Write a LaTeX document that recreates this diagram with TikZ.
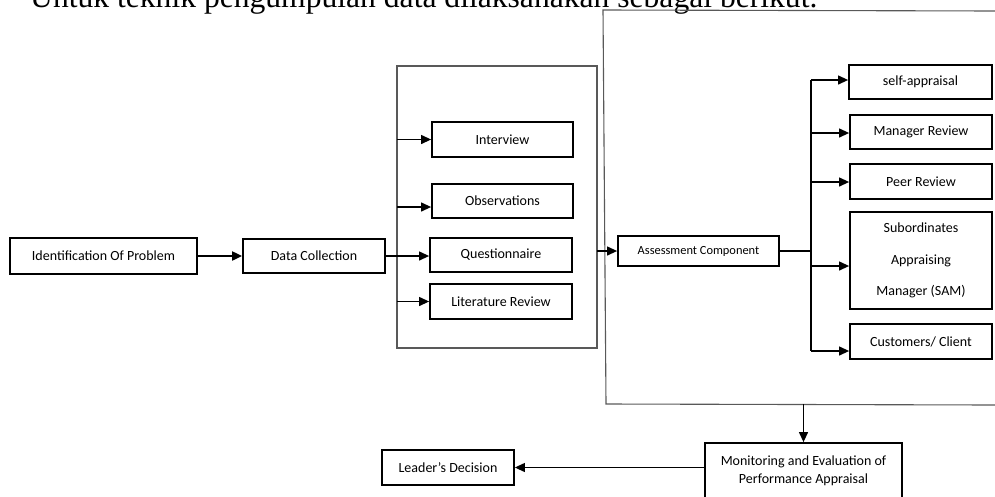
\documentclass[tikz,border=0pt]{standalone}
\usepackage{fontspec}
\setmainfont{Carlito}
\newfontfamily\titlefont{Liberation Serif}
\usetikzlibrary{calc,arrows.meta}

\tikzset{
  box/.style={draw, line width=1.8pt, inner sep=0pt, align=center, font=\fontsize{14}{18}\selectfont},
  bigframe/.style={draw=black!65, line width=1.1pt},
  arr/.style={-{Triangle[length=10pt,width=9pt]}, line width=1.2pt},
}

\begin{document}
\begin{tikzpicture}[x=1pt,y=-1pt]
\useasboundingbox (0,0) rectangle (995,496);
\clip (0,0) rectangle (995,496);

\node[anchor=base west, inner sep=0pt, font=\titlefont\fontsize{31.6}{36}\selectfont] (title) at (30,7) {Untuk teknik pengumpulan data dilaksanakan sebagai berikut.};

\coordinate (fa) at (397,66);
\coordinate (fb) at (597,348);
\coordinate (ga) at (603,10);
\coordinate (gb) at (606,404);
\coordinate (bus) at (811,0);

\draw[bigframe] (fa) rectangle (fb);
\draw[bigframe] (995,11) -- (ga) -- (gb) -- (995,405);

\node[box, minimum width=187pt, minimum height=36pt] (problem) at (103.5,256) {Identification Of Problem};
\node[box, minimum width=142pt, minimum height=34pt] (datacol) at (314,256) {Data Collection};

\node[box, minimum width=141pt, minimum height=35pt] (interview) at (502.5,139.5) {Interview};
\node[box, minimum width=141pt, minimum height=34pt] (observ) at (502.5,201) {Observations};
\node[box, minimum width=142pt, minimum height=34pt] (quest) at (501,255) {Questionnaire};
\node[box, minimum width=142pt, minimum height=35pt] (litrev) at (501,301.5) {Literature Review};

\node[box, minimum width=161pt, minimum height=30pt, font=\fontsize{12.4}{15}\selectfont] (assess) at (698.5,251) {Assessment Component};

\node[box, minimum width=143pt, minimum height=34pt] (self) at (920.5,82) {self-appraisal};
\node[box, minimum width=142pt, minimum height=34pt] (manager) at (921,132) {Manager Review};
\node[box, minimum width=142pt, minimum height=35pt] (peer) at (921,181.5) {Peer Review};
\node[box, minimum width=142pt, minimum height=97pt, font=\fontsize{14}{31.5}\selectfont] (sam) at (921,260.5) {Subordinates\\Appraising\\Manager (SAM)};
\node[box, minimum width=142pt, minimum height=35pt] (customers) at (921,341.5) {Customers/ Client};

\node[box, minimum width=197pt, minimum height=56pt] (monitor) at (803.5,471) {Monitoring and Evaluation of\\Performance Appraisal};
\node[box, minimum width=132pt, minimum height=35pt] (leader) at (448,467.5) {Leader’s Decision};

\draw[arr, line width=2pt] (problem) -- (datacol);
\draw[arr] (datacol.east) -- (datacol.east -| quest.west);
\draw[arr] (fa |- interview) -- (interview.west);
\draw[arr] ($(fa |- observ)+(0,6)$) -- ($(observ.west)+(0,6)$);
\draw[arr] (fa |- litrev) -- (litrev.west);
\draw[arr] (fb |- assess) -- (assess.west);

\draw[line width=1.2pt] (assess.east) -- (bus |- assess.east);
\draw[line width=1.2pt] ($(bus |- self)+(0,-2)$) -- ($(bus |- customers)+(0,9.5)$);
\foreach \n/\dy in {self/-2,manager/1,peer/0.5,sam/5.5,customers/9.5}
  \draw[arr] ($(bus |- \n)+(0,\dy)$) -- ($(\n.west)+(0,\dy)$);

\draw[arr] (monitor.north |- gb) -- (monitor.north);
\draw[arr] (monitor.west |- leader) -- (leader.east);
\end{tikzpicture}
\end{document}
